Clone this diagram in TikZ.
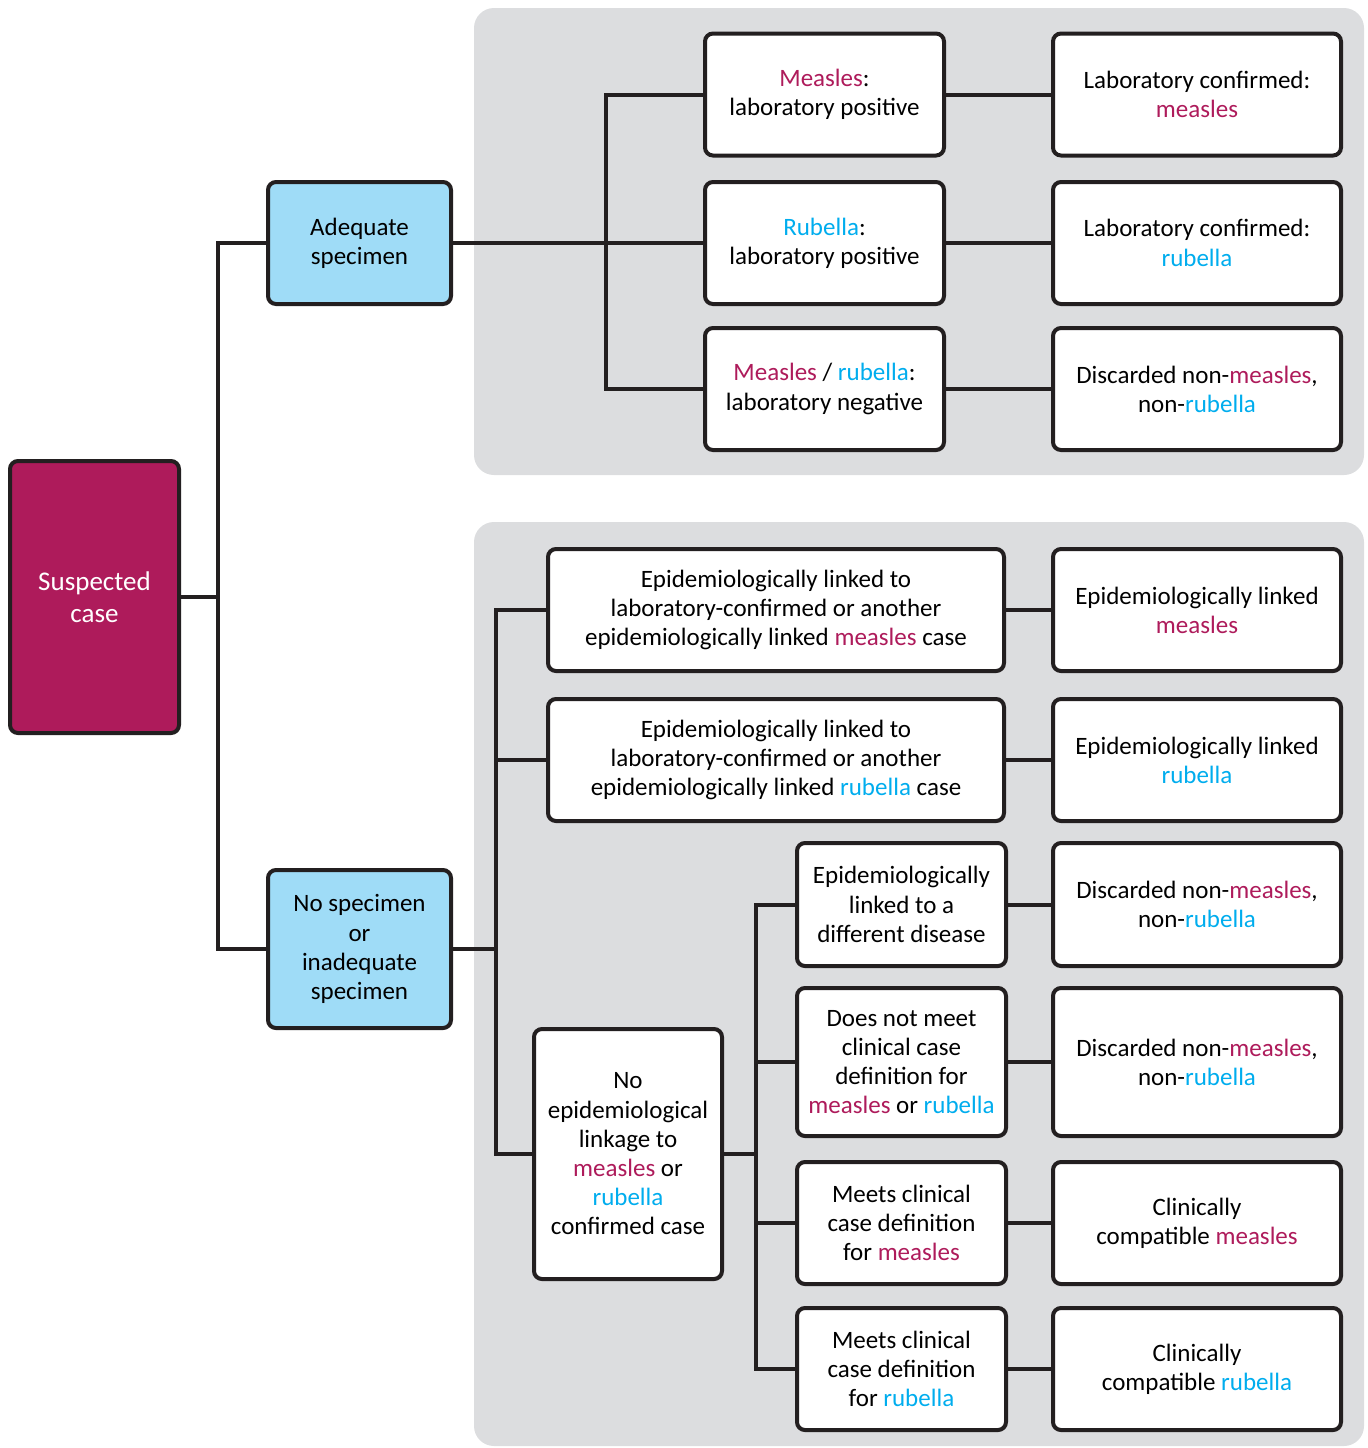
\documentclass[tikz,border=0pt]{standalone}
\usepackage{fontspec}
\setmainfont{Carlito}
\definecolor{msl}{RGB}{174,27,91}
\definecolor{rub}{RGB}{0,173,238}
\definecolor{panel}{RGB}{220,221,223}
\definecolor{lblue}{RGB}{159,220,247}
\definecolor{ink}{RGB}{35,31,32}
\newcommand{\msl}[1]{\textcolor{msl}{#1}}
\newcommand{\rub}[1]{\textcolor{rub}{#1}}

\tikzset{every picture/.style={line width=2pt}}
\tikzset{
  box/.style={draw=ink, fill=white, rounded corners=4pt, align=center, inner sep=2pt,
              font=\fontsize{12.5}{14.6}\selectfont},
  specbox/.style={box, fill=lblue},
  link/.style={draw=ink, line width=2pt},
  bg/.style={fill=panel, draw=none, rounded corners=10pt}
}

\begin{document}
\begin{tikzpicture}[x=0.5pt, y=0.5pt, yscale=-1, xscale=1]

    \useasboundingbox (0,0) rectangle (1368,1448);

    \fill [bg] (474,  8) rectangle (1364, 475);
    \fill [bg] (474,522) rectangle (1364,1446);

    \node [box, fill=msl, text=white, minimum width=84.5pt, minimum height=136pt,
           font=\fontsize{13.5}{16}\selectfont] (suspect) at (94.5,597) {Suspected\\case};

    \node [specbox, minimum width=91.5pt, minimum height=61pt] (adeq)   at (359.5,243) {Adequate\\specimen};
    \node [specbox, minimum width=91.5pt, minimum height=79pt] (nospec) at (359.5,949) {No specimen\\or\\inadequate\\specimen};

    % adequate specimen branch
    \node [box, minimum width=119.5pt, minimum height=61pt] (mpos) at (824.5, 94.5) {\msl{Measles}:\\laboratory positive};
    \node [box, minimum width=119.5pt, minimum height=61pt] (rpos) at (824.5,243)   {\rub{Rubella}:\\laboratory positive};
    \node [box, minimum width=119.5pt, minimum height=61pt] (neg)  at (824.5,389)   {\msl{Measles} / \rub{rubella}:\\laboratory negative};

    \node [box, minimum width=144pt, minimum height=61pt] (labm) at (1197, 94.5) {Laboratory confirmed:\\\msl{measles}};
    \node [box, minimum width=144pt, minimum height=61pt] (labr) at (1197,243)   {Laboratory confirmed:\\\rub{rubella}};
    \node [box, minimum width=144pt, minimum height=61pt] (disc) at (1197,389)   {Discarded non-\msl{measles},\\non-\rub{rubella}};

    % no specimen branch
    \node [box, minimum width=228pt, minimum height=61pt] (epim) at (776,610)
          {Epidemiologically linked to\\laboratory-confirmed or another\\epidemiologically linked \msl{measles} case};
    \node [box, minimum width=228pt, minimum height=61pt] (epir) at (776,760)
          {Epidemiologically linked to\\laboratory-confirmed or another\\epidemiologically linked \rub{rubella} case};
    \node [box, minimum width=94pt, minimum height=125pt] (noepi) at (628,1154)
          {No\\epidemiological\\linkage to\\\msl{measles} or\\\rub{rubella}\\confirmed case};

    \node [box, minimum width=104.5pt, minimum height=61.5pt] (other) at (901.5, 904.5) {Epidemiologically\\linked to a\\different disease};
    \node [box, minimum width=104.5pt, minimum height=74pt]   (nomeet) at (901.5,1062) {Does not meet\\clinical case\\definition for\\\msl{measles} or \rub{rubella}};
    \node [box, minimum width=104.5pt, minimum height=61pt]   (clinm) at (901.5,1223) {Meets clinical\\case definition\\for \msl{measles}};
    \node [box, minimum width=104.5pt, minimum height=61pt]   (clinr) at (901.5,1369) {Meets clinical\\case definition\\for \rub{rubella}};

    \node [box, minimum width=144pt, minimum height=61pt]   (epimres)  at (1197, 610)   {Epidemiologically linked\\\msl{measles}};
    \node [box, minimum width=144pt, minimum height=61pt]   (epirres)  at (1197, 760)   {Epidemiologically linked\\\rub{rubella}};
    \node [box, minimum width=144pt, minimum height=61.5pt] (otherres) at (1197, 904.5) {Discarded non-\msl{measles},\\non-\rub{rubella}};
    \node [box, minimum width=144pt, minimum height=74pt]   (nomeetres) at (1197,1062)  {Discarded non-\msl{measles},\\non-\rub{rubella}};
    \node [box, minimum width=144pt, minimum height=61pt]   (clinmres) at (1197,1223)   {Clinically\\compatible \msl{measles}};
    \node [box, minimum width=144pt, minimum height=61pt]   (clinrres) at (1197,1369)   {Clinically\\compatible \rub{rubella}};

    \coordinate (trunk)    at (218, 597);
    \coordinate (topfork)  at (606, 243);
    \coordinate (botfork)  at (496, 949);
    \coordinate (clinfork) at (756,1154);

    \draw [link] (suspect.east) -- (trunk) |- (adeq.west);
    \draw [link] (trunk) |- (nospec.west);

    \draw [link] (adeq.east) -- (topfork) -- (rpos.west);
    \draw [link] (topfork) |- (mpos.west);
    \draw [link] (topfork) |- (neg.west);
    \draw [link] (mpos.east) -- (labm.west);
    \draw [link] (rpos.east) -- (labr.west);
    \draw [link] (neg.east)  -- (disc.west);

    \draw [link] (nospec.east) -- (botfork) |- (noepi.west);
    \draw [link] (botfork) |- (epim.west);
    \draw [link] (botfork) |- (epir.west);
    \draw [link] (epim.east) -- (epimres.west);
    \draw [link] (epir.east) -- (epirres.west);

    \draw [link] (noepi.east) -- (clinfork);
    \foreach \n in {other, nomeet, clinm, clinr}
      \draw [link] (clinfork) |- (\n.west);
    \foreach \n in {other, nomeet, clinm, clinr}
      \draw [link] (\n.east) -- (\n res.west);

\end{tikzpicture}
\end{document}
